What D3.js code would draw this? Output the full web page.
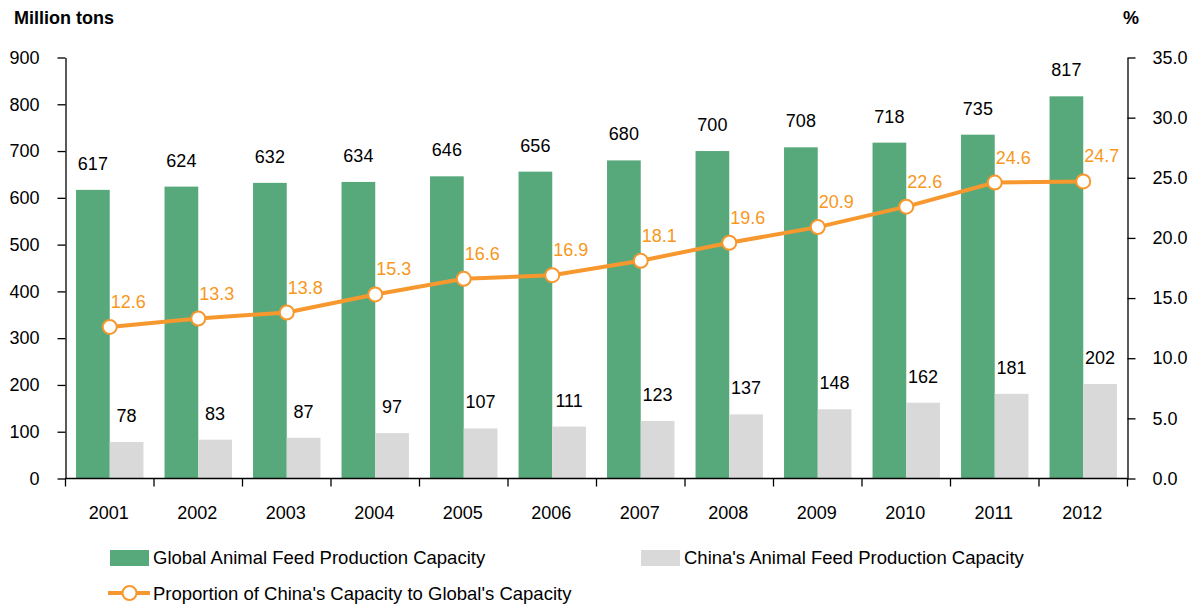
<!DOCTYPE html>
<html>
<head>
<meta charset="utf-8">
<script src="https://cdn.jsdelivr.net/npm/d3@7"></script>
<style>
  html, body { margin: 0; padding: 0; background: #fff; }
  svg text { font-family: "Liberation Sans", Arial, sans-serif; }
</style>
</head>
<body>
<svg id="chart" width="1200" height="606"></svg>
<script>
// Animal feed production capacity, 2001–2012
const years = ["2001","2002","2003","2004","2005","2006","2007","2008","2009","2010","2011","2012"];
const globalCapacity = [617, 624, 632, 634, 646, 656, 680, 700, 708, 718, 735, 817];
const chinaCapacity  = [78, 83, 87, 97, 107, 111, 123, 137, 148, 162, 181, 202];
const chinaShare     = [12.6, 13.3, 13.8, 15.3, 16.6, 16.9, 18.1, 19.6, 20.9, 22.6, 24.6, 24.7];
const leftTicks  = [0, 100, 200, 300, 400, 500, 600, 700, 800, 900];
const rightTicks = [0, 5, 10, 15, 20, 25, 30, 35];

const GREEN = "#57A97C", GRAY = "#D9D9D9", ORANGE = "#F7982F", ORANGE_TEXT = "#F7981D";
const FS = 18;

const svg = d3.select("#chart");
const plotLeft = 65.5, plotRight = 1127.5, plotTop = 57.5, plotBottom = 478.5;

const x = d3.scaleBand().domain(years).range([plotLeft, plotRight]).padding(0);
const yL = d3.scaleLinear().domain([0, 900]).range([plotBottom, plotTop]);
const yR = d3.scaleLinear().domain([0, 35]).range([plotBottom, plotTop]);

const barW = x.bandwidth() * 0.381;
const groupOff = (x.bandwidth() - 2 * barW) / 2;

// Bars
const g = svg.append("g");
g.selectAll("rect.global").data(years).join("rect")
  .attr("class", "global")
  .attr("x", (d) => x(d) + groupOff)
  .attr("y", (d, i) => yL(globalCapacity[i]))
  .attr("width", barW)
  .attr("height", (d, i) => plotBottom - yL(globalCapacity[i]))
  .attr("fill", GREEN);

g.selectAll("rect.china").data(years).join("rect")
  .attr("class", "china")
  .attr("x", (d) => x(d) + groupOff + barW)
  .attr("y", (d, i) => yL(chinaCapacity[i]))
  .attr("width", barW)
  .attr("height", (d, i) => plotBottom - yL(chinaCapacity[i]))
  .attr("fill", GRAY);

// Bar value labels
g.selectAll("text.gl").data(years).join("text")
  .attr("class", "gl")
  .attr("x", (d) => x(d) + groupOff + barW / 2)
  .attr("y", (d, i) => yL(globalCapacity[i]) - 20)
  .attr("text-anchor", "middle")
  .attr("font-size", FS)
  .attr("fill", "#000")
  .text((d, i) => globalCapacity[i]);

g.selectAll("text.cl").data(years).join("text")
  .attr("class", "cl")
  .attr("x", (d) => x(d) + groupOff + barW * 1.5)
  .attr("y", (d, i) => yL(chinaCapacity[i]) - 20)
  .attr("text-anchor", "middle")
  .attr("font-size", FS)
  .attr("fill", "#000")
  .text((d, i) => chinaCapacity[i]);

// Axes
const axisStyle = (sel) => {
  sel.selectAll("path, line").attr("stroke", "#000").attr("stroke-width", 1.3);
  sel.selectAll("text").attr("font-size", FS).attr("fill", "#000")
    .attr("font-family", "Liberation Sans, Arial, sans-serif");
};

svg.append("g")
  .attr("transform", `translate(${plotLeft},0)`)
  .call(d3.axisLeft(yL).tickValues(leftTicks).tickSize(8).tickSizeOuter(0).tickPadding(18))
  .call(axisStyle);

svg.append("g")
  .attr("transform", `translate(${plotRight},0)`)
  .call(d3.axisRight(yR).tickValues(rightTicks).tickFormat(d3.format(".1f")).tickSize(8).tickSizeOuter(0).tickPadding(17))
  .call(axisStyle);

// Bottom axis: ticks sit on the category boundaries
const xAxis = svg.append("g").attr("transform", `translate(0,${plotBottom})`);
xAxis.append("line").attr("x1", plotLeft).attr("x2", plotRight).attr("y1", 0).attr("y2", 0)
  .attr("stroke", "#000").attr("stroke-width", 1.3);
const bounds = years.map((d) => x(d)).concat([plotRight]);
xAxis.selectAll("line.tk").data(bounds).join("line")
  .attr("class", "tk")
  .attr("x1", (d) => d).attr("x2", (d) => d)
  .attr("y1", 0).attr("y2", 8)
  .attr("stroke", "#000").attr("stroke-width", 1.3);
xAxis.selectAll("text").data(years).join("text")
  .attr("x", (d) => x(d) + x.bandwidth() / 2 - 1)
  .attr("y", 40)
  .attr("text-anchor", "middle")
  .attr("font-size", FS)
  .text((d) => d);

// Axis titles
svg.append("text").attr("x", 14).attr("y", 24).attr("font-size", FS).attr("font-weight", "bold").text("Million tons");
svg.append("text").attr("x", 1123).attr("y", 24).attr("font-size", FS).attr("font-weight", "bold").text("%");

// Share line
const cx = (d) => x(d) + x.bandwidth() / 2;
const line = d3.line().x((d, i) => cx(years[i])).y((d) => yR(d));
svg.append("path").datum(chinaShare)
  .attr("d", line)
  .attr("fill", "none")
  .attr("stroke", ORANGE)
  .attr("stroke-width", 4);

svg.selectAll("circle.pt").data(chinaShare).join("circle")
  .attr("class", "pt")
  .attr("cx", (d, i) => cx(years[i]))
  .attr("cy", (d) => yR(d))
  .attr("r", 7)
  .attr("fill", "#fff")
  .attr("stroke", ORANGE)
  .attr("stroke-width", 2);

svg.selectAll("text.pl").data(chinaShare).join("text")
  .attr("class", "pl")
  .attr("x", (d, i) => cx(years[i]) + 18.5)
  .attr("y", (d) => yR(d) - 19)
  .attr("text-anchor", "middle")
  .attr("font-size", FS)
  .attr("fill", ORANGE_TEXT)
  .text((d) => d.toFixed(1));

// Legend
const LFS = 18.5;
const lg = svg.append("g");
lg.append("rect").attr("x", 110).attr("y", 550).attr("width", 39).attr("height", 16).attr("fill", GREEN);
lg.append("text").attr("x", 153).attr("y", 564).attr("font-size", LFS).text("Global Animal Feed Production Capacity");
lg.append("rect").attr("x", 641).attr("y", 550).attr("width", 39).attr("height", 16).attr("fill", GRAY);
lg.append("text").attr("x", 684).attr("y", 564).attr("font-size", LFS).text("China's Animal Feed Production Capacity");
lg.append("line").attr("x1", 108).attr("x2", 150).attr("y1", 593).attr("y2", 593)
  .attr("stroke", ORANGE).attr("stroke-width", 4);
lg.append("circle").attr("cx", 129.5).attr("cy", 593).attr("r", 7)
  .attr("fill", "#fff").attr("stroke", ORANGE).attr("stroke-width", 2);
lg.append("text").attr("x", 153).attr("y", 600).attr("font-size", LFS).text("Proportion of China's Capacity to Global's Capacity");
</script>
</body>
</html>
